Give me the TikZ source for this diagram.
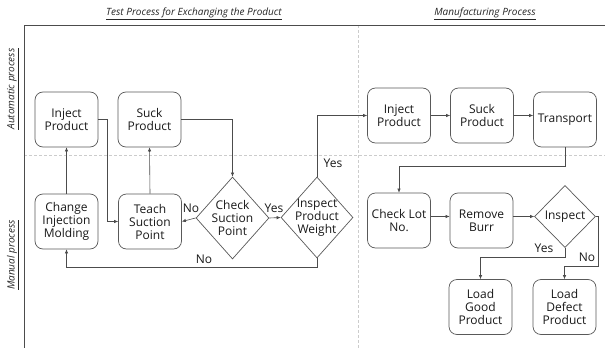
\documentclass[tikz,border=0pt]{standalone}
\usepackage{fontspec}
\setmainfont{Open Sans}
\usetikzlibrary{arrows.meta,shapes.geometric}
\begin{document}
\begin{tikzpicture}[x=1pt,y=-1pt,
  lane/.style={draw=black!70, line width=0.9pt},
  divider/.style={draw=black!20, dash pattern=on 3pt off 2pt, line width=0.6pt},
  proc/.style={draw=black!65, line width=0.7pt, rounded corners=8pt, minimum width=63pt,
    minimum height=55pt, align=center, inner sep=1pt, text=black!90,
    font=\fontsize{12}{13}\selectfont},
  dec/.style={draw=black!65, line width=0.7pt, diamond, inner sep=0pt},
  arr/.style={draw=black!70, line width=0.6pt, -{Latex[length=4pt,width=3.5pt]}},
  lbl/.style={font=\fontsize{12}{13}\selectfont, inner sep=0pt, text=black!90},
  head/.style={font=\itshape\fontsize{10}{12}\selectfont, inner sep=0pt, text=black!85}]
\useasboundingbox (0,0) rectangle (605,348);
\fill[white] (0,0) rectangle (605,348);

% lane dividers
\draw[divider] (24,155) -- (605,155);
\draw[divider] (358,25) -- (358,348);
% frame
\draw[lane] (24,348) -- (24,25) -- (605,25);

% headings
\node[head] (h1) at (194,14) {\underline{Test Process for Exchanging the Product}};
\node[head] (h2) at (485,14) {\underline{Manufacturing Process}};
\node[head, rotate=90] (v1) at (13,89) {\underline{Automatic process}};
\node[head, rotate=90] (v2) at (13,255) {\underline{Manual process}};

% test process
\node[proc] (ip1) at (66.5,119.5) {Inject\\Product};
\node[proc] (sp1) at (149.5,119.5) {Suck\\Product};
\node[proc] (cim) at (66.5,221.5) {Change\\Injection\\Molding};
\node[proc] (tsp) at (150,221.5) {Teach\\Suction\\Point};
\node[dec, minimum width=73pt, minimum height=82pt,
  label={[lbl,align=center]center:Check\\Suction\\Point}] (cs) at (232.5,218) {};
\node[dec, minimum width=72pt, minimum height=81pt,
  label={[lbl,align=center]center:Inspect\\Product\\Weight}] (ipw) at (317,217.5) {};

% manufacturing process
\node[proc] (ip2) at (399,115.5) {Inject\\Product};
\node[proc] (sp2) at (482,115.5) {Suck\\Product};
\node[proc] (tr) at (565,119.5) {Transport};
\node[proc] (cln) at (399,220.5) {Check Lot\\No.};
\node[proc] (rb) at (481.5,220.5) {Remove\\Burr};
\node[dec, minimum width=61pt, minimum height=62pt,
  label={[lbl]center:Inspect}] (insp) at (565,216.5) {};
\node[proc] (lgp) at (480.5,307) {Load\\Good\\Product};
\node[proc] (ldp) at (564.5,307) {Load\\Defect\\Product};

% connectors, test process
\draw[arr] (ip1.east) -- ++(9,0) |- (tsp.west);
\draw[arr] (sp1.east) -| (cs.north);
\draw[arr] (cim.north) -- (ip1.south);
\draw[arr] (tsp.north) -- (sp1.south);
\draw[arr] (cs.west) -- (tsp.east);
\node[lbl] (no1) at (191,208) {No};
\draw[arr] (cs.east) -- (ipw.west);
\node[lbl] (yes1) at (274,208) {Yes};
\draw[arr] (ipw.south) -- ++(0,9) -| (cim.south);
\node[lbl] (no2) at (204,259) {No};
\draw[arr] (ipw.north) |- (ip2.west);
\node[lbl] (yes2) at (333,163) {Yes};

% connectors, manufacturing process
\draw[arr] (ip2.east) -- (sp2.west);
\draw[arr] (sp2.east) -- (sp2.east -| tr.west);
\draw[arr] (tr.south) -- ++(0,19) -| (cln.north);
\draw[arr] (cln.east |- insp) -- (rb.west |- insp);
\draw[arr] (rb.east |- insp) -- (insp.west);
\draw[arr] (insp.south) -- ++(0,9.5) -| (lgp.north);
\node[lbl] (yes3) at (544,248) {Yes};
\draw[arr] (insp.east) -- ++(2,0) -- ++(0,49.5) -| (ldp.north);
\node[lbl] (no3) at (587,257) {No};
\end{tikzpicture}
\end{document}
